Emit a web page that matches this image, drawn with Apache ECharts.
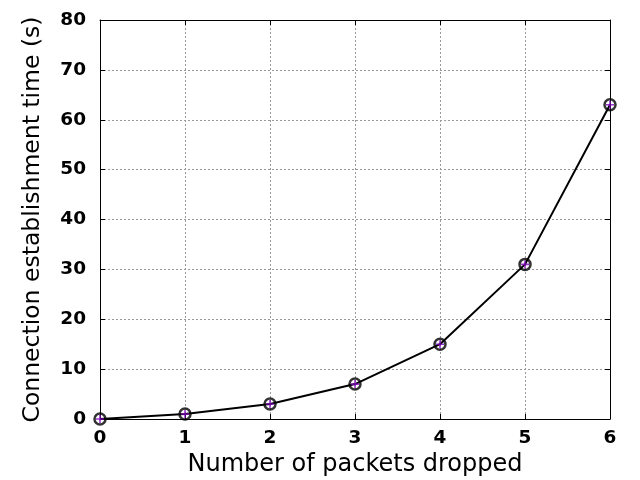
<!DOCTYPE html>
<html>
<head>
<meta charset="utf-8">
<script src="https://cdn.jsdelivr.net/npm/echarts@6/dist/echarts.min.js"></script>
<style>
  html, body { margin: 0; padding: 0; background: #fff; }
  #chart { width: 640px; height: 480px; }
</style>
</head>
<body>
<div id="chart"></div>
<script>
const packetsDropped = [0, 1, 2, 3, 4, 5, 6]
const connTime = [0, 1, 3, 7, 15, 31, 63]

const chart = echarts.init(document.getElementById("chart"))
const pts = packetsDropped.map((x, i) => [x, connTime[i]])

const labelStyle = {
  color: "#000",
  fontFamily: "DejaVu Sans",
  fontWeight: "bold",
  fontSize: 18.5
}
const dotted = { show: true, lineStyle: { color: "#999", type: [2, 2], width: 1 } }
const tickIn = { show: true, inside: true, length: 5, lineStyle: { color: "#000" } }
const frame = { show: true, onZero: false, lineStyle: { color: "#000", width: 1 } }

const option = {
  animation: false,
  backgroundColor: "#fff",
  grid: { left: 100, right: 30, top: 20, bottom: 61, outerBoundsMode: "none" },
  xAxis: [
    {
      type: "value", min: 0, max: 6, interval: 1,
      name: "Number of packets dropped",
      nameLocation: "middle", nameGap: 33,
      nameTextStyle: { color: "#000", fontFamily: "DejaVu Sans", fontSize: 24 },
      axisLine: frame, axisTick: tickIn, splitLine: dotted,
      axisLabel: Object.assign({ margin: 10 }, labelStyle)
    },
    {
      type: "value", min: 0, max: 6, interval: 1, position: "top",
      axisLine: frame, axisTick: tickIn, splitLine: { show: false },
      axisLabel: { show: false }
    }
  ],
  yAxis: [
    {
      type: "value", min: 0, max: 80, interval: 10,
      name: "Connection establishment time (s)",
      nameLocation: "middle", nameGap: 55,
      nameTextStyle: { color: "#000", fontFamily: "DejaVu Sans", fontSize: 23.5 },
      axisLine: frame, axisTick: tickIn, splitLine: dotted,
      axisLabel: Object.assign({ margin: 14, padding: [0, 0, 5, 0] }, labelStyle)
    },
    {
      type: "value", min: 0, max: 80, interval: 10, position: "right",
      axisLine: frame, axisTick: tickIn, splitLine: { show: false },
      axisLabel: { show: false }
    }
  ],
  series: [
    {
      type: "line",
      data: pts,
      showSymbol: false,
      lineStyle: { color: "#000", width: 2 },
      z: 2
    },
    {
      type: "scatter",
      data: pts,
      symbol: "circle",
      symbolSize: 11,
      itemStyle: { color: "rgba(0,0,0,0)", borderColor: "#000", borderWidth: 2.5 },
      z: 3
    },
    {
      type: "scatter",
      data: pts,
      symbol: "path://M4,0 L6,0 L6,4 L10,4 L10,6 L6,6 L6,10 L4,10 L4,6 L0,6 L0,4 L4,4 Z",
      symbolSize: 8,
      itemStyle: { color: "#8000c0" },
      z: 4
    }
  ]
}

chart.setOption(option)
</script>
</body>
</html>
